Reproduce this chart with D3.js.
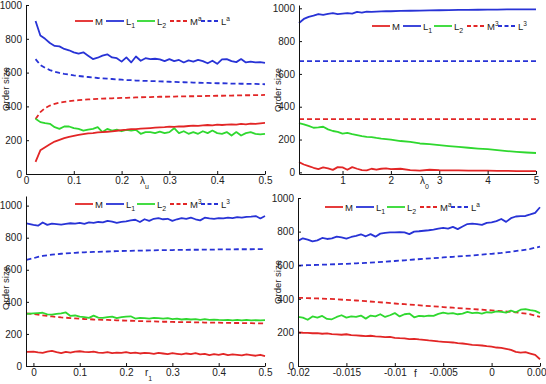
<!DOCTYPE html>
<html><head><meta charset="utf-8">
<script src="https://cdn.jsdelivr.net/npm/d3@7/dist/d3.min.js"></script>
<style>body{margin:0;background:#fff} svg{display:block}</style>
</head><body>
<svg id="c" width="546" height="384"></svg>
<script>
// ---------- Panel 1 (lambda_u) ----------
const p1X = [0.02,0.03,0.04,0.05,0.06,0.07,0.08,0.09,0.10,0.11,0.12,0.13,0.14,0.15,0.16,0.17,0.18,0.19,0.20,0.21,0.22,0.23,0.24,0.25,0.26,0.27,0.28,0.29,0.30,0.31,0.32,0.33,0.34,0.35,0.36,0.37,0.38,0.39,0.40,0.41,0.42,0.43,0.44,0.45,0.46,0.47,0.48,0.49,0.50];
const p1M  = [72,140,158,176,192,202,212,220,226,232,236,240,242,246,248,250,252,256,260,262,265,266,268,270,272,274,276,277,280,279,282,281,284,286,285,288,290,288,292,290,292,294,292,296,294,298,296,300,302];
const p1L1 = [905,820,800,775,758,755,740,732,720,712,720,700,680,688,700,708,690,685,665,690,660,695,670,685,680,682,678,668,680,668,675,660,672,665,675,668,655,670,652,678,680,668,662,680,660,665,660,662,658];
const p1L2 = [327,307,301,297,277,267,281,281,271,267,257,263,267,277,248,267,257,263,253,261,257,261,238,248,248,242,251,242,248,271,242,253,238,248,238,253,242,257,242,238,248,228,248,228,242,248,238,234,238];
const p1Ma = [325,366,390,405,415,422,427,431,434,437,439,441,443,445,446,447,448,449,450,451,452,453,454,455,455,456,457,457,458,458,459,459,460,460,461,461,462,462,463,463,464,464,465,465,466,466,467,467,468];
const p1La = [680,645,628,615,605,598,592,588,583,580,577,574,571,568,566,564,562,560,558,556,555,553,552,551,550,549,548,547,546,545,544,543,542,541,540,539,539,538,537,537,536,535,535,534,534,533,533,532,531];
const p1XTicks = [0,0.1,0.2,0.3,0.4,0.5];
const p1XLabels = ["0","0.1","0.2","0.3","0.4","0.5"];

// ---------- Panel 2 (lambda_0) ----------
const p2X = [0.1,0.2,0.3,0.4,0.5,0.6,0.7,0.8,0.9,1.0,1.1,1.2,1.3,1.4,1.5,1.6,1.7,1.8,1.9,2.0,2.2,2.4,2.6,2.8,3.0,3.2,3.4,3.6,3.8,4.0,4.2,4.4,4.6,4.8,5.0];
const p2M  = [62,48,38,28,20,30,24,15,32,30,16,32,22,14,12,22,16,22,24,20,22,14,10,16,13,12,12,11,10,10,9,9,8,8,7];
const p2L1 = [910,935,948,955,965,960,966,970,964,967,970,968,978,974,980,978,980,981,982,982,984,985,986,987,988,989,990,990,991,992,992,993,993,993,993];
const p2L2 = [300,293,283,272,274,278,262,252,247,236,240,233,227,221,216,215,210,206,203,199,191,186,176,172,166,160,155,150,145,141,135,130,125,121,118];
const p2DashX = [0.1,5.0];
const p2Ma = [324,324];
const p2La = [678,678];
const p2XTicks = [1,2,3,4,5];
const p2XLabels = ["1","2","3","4","5"];

// ---------- Panel 3 (r_1) ----------
const p3X = [-0.015,0,0.01,0.02,0.03,0.04,0.05,0.06,0.07,0.08,0.09,0.10,0.11,0.12,0.13,0.14,0.15,0.16,0.17,0.18,0.19,0.20,0.21,0.22,0.23,0.24,0.25,0.26,0.27,0.28,0.29,0.30,0.31,0.32,0.33,0.34,0.35,0.36,0.37,0.38,0.39,0.40,0.41,0.42,0.43,0.44,0.45,0.46,0.47,0.48,0.49,0.50];
const p3M  = [88,90,85,82,90,94,86,80,88,84,90,92,88,86,90,84,82,86,80,84,82,86,80,84,78,82,80,76,82,78,74,80,76,72,78,74,80,72,76,68,74,70,76,68,72,70,66,72,68,64,70,62];
const p3L1 = [890,880,875,895,880,888,885,882,886,890,888,892,886,895,892,898,896,905,900,893,898,902,908,912,898,915,905,918,922,915,918,905,915,922,918,925,915,908,925,920,918,922,920,925,922,928,925,930,932,935,920,935];
const p3L2 = [325,328,330,332,322,320,325,328,334,312,315,308,305,300,314,302,300,305,308,298,305,308,310,296,300,298,296,300,298,296,298,292,295,290,293,290,292,288,292,287,289,287,286,288,285,287,285,287,284,286,285,286];
const p3Ma = [328,324,320,316,312,309,306,303,301,299,297,295,293,292,290,289,288,287,286,285,284,283,282,281,280,279,278,278,277,276,276,275,274,274,273,273,272,272,271,271,270,270,269,269,268,268,268,267,267,266,266,265];
const p3La = [662,672,680,686,690,694,697,700,702,704,706,708,709,710,711,712,713,714,715,716,717,718,718,719,720,720,721,721,722,722,723,723,724,724,724,725,725,725,726,726,726,727,727,727,727,728,728,728,728,729,729,729];
const p3XTicks = [0,0.1,0.2,0.3,0.4,0.5];
const p3XLabels = ["0","0.1","0.2","0.3","0.4","0.5"];

// ---------- Panel 4 (f) ----------
const p4X = [-0.02,-0.0195,-0.019,-0.0185,-0.018,-0.0175,-0.017,-0.0165,-0.016,-0.0155,-0.015,-0.0145,-0.014,-0.0135,-0.013,-0.0125,-0.012,-0.0115,-0.011,-0.0105,-0.01,-0.0095,-0.009,-0.0085,-0.008,-0.0075,-0.007,-0.0065,-0.006,-0.0055,-0.005,-0.0045,-0.004,-0.0035,-0.003,-0.0025,-0.002,-0.0015,-0.001,-0.0005,0,0.0005,0.001,0.0015,0.002,0.0025,0.003,0.0035,0.004,0.0045,0.005];
const p4M  = [200,198,197,195,196,192,194,190,188,186,189,184,182,180,178,180,176,175,172,173,168,166,165,160,162,158,155,152,150,146,144,142,140,136,134,130,126,124,122,118,115,110,108,102,96,84,80,82,74,66,40];
const p4L1 = [745,760,752,742,748,762,756,760,770,765,758,768,775,784,772,785,770,788,792,795,795,797,795,785,800,802,805,808,812,818,822,818,828,815,830,845,848,845,840,852,855,862,875,858,880,890,892,893,902,912,945];
const p4L2 = [292,288,275,295,288,298,280,278,292,302,288,295,292,300,282,300,295,308,292,302,315,295,308,312,290,298,296,300,298,310,318,312,315,308,312,322,315,318,312,320,318,325,322,318,330,320,335,338,332,328,315];
const p4DashX = [-0.02,-0.019,-0.018,-0.017,-0.016,-0.015,-0.014,-0.013,-0.012,-0.011,-0.01,-0.009,-0.008,-0.007,-0.006,-0.005,-0.004,-0.003,-0.002,-0.001,0,0.001,0.002,0.003,0.004,0.005];
const p4Ma = [406,404,402,400,397,393,390,386,381,377,372,368,364,359,355,351,347,343,339,335,331,327,322,316,308,293];
const p4La = [598,600,602,604,606,608,611,614,617,621,625,629,634,638,642,646,650,654,658,663,668,673,680,688,697,711];
const p4XTicks = [-0.02,-0.015,-0.01,-0.005,0,0.005];
const p4XLabels = ["-0.02","-0.015","-0.01","-0.005","0","0.00"];

const yTicks = [0,200,400,600,800,1000];
const yLabels = ["0","200","400","600","800","1000"];
const yTitle = "Order size";

const FONT = "'Liberation Sans', Arial, Helvetica, sans-serif";
const RED = "#e22626", BLUE = "#2833d6", GREEN = "#2fd82f";

const svg = d3.select("#c");

function drawPanel(cfg) {
  const x = d3.scaleLinear().domain(cfg.xDomain).range(cfg.xRange);
  const y = d3.scaleLinear().domain(cfg.yDomain).range(cfg.yRange);
  const g = svg.append("g");

  const series = [
    {x: cfg.dashX, y: cfg.La, c: BLUE, dash: true},
    {x: cfg.dashX, y: cfg.Ma, c: RED, dash: true},
    {x: cfg.solidX, y: cfg.L1, c: BLUE},
    {x: cfg.solidX, y: cfg.L2, c: GREEN},
    {x: cfg.solidX, y: cfg.M, c: RED}
  ];
  series.forEach(s => {
    const ln = d3.line().x((d, i) => x(s.x[i])).y(d => y(d));
    g.append("path").attr("d", ln(s.y))
      .attr("fill", "none").attr("stroke", s.c)
      .attr("stroke-width", 1.8)
      .attr("stroke-linejoin", "round")
      .attr("stroke-dasharray", s.dash ? "5,3" : null);
  });

  const xa = d3.axisBottom(x).tickValues(cfg.xTicks)
    .tickFormat((d, i) => cfg.xLabels[i])
    .tickSizeInner(-3).tickSizeOuter(0).tickPadding(3);
  const ya = d3.axisLeft(y).tickValues(yTicks)
    .tickFormat((d, i) => yLabels[i])
    .tickSizeInner(-3).tickSizeOuter(0).tickPadding(4);

  const gx = g.append("g").attr("transform", `translate(0,${cfg.yRange[0]})`).call(xa);
  const gy = g.append("g").attr("transform", `translate(${cfg.xRange[0]},0)`).call(ya);
  [gx, gy].forEach(a => {
    a.selectAll("path,line").attr("stroke", "#111").attr("stroke-width", 1);
    a.selectAll("text").attr("font-family", FONT).attr("font-size", 10).attr("fill", "#222");
  });
  if (cfg.lastLabelEnd) {
    const last = gx.selectAll(".tick").filter((d, i, n) => i === n.length - 1).select("text");
    last.attr("text-anchor", "end").attr("x", cfg.lastLabelEnd);
  }

  // y title
  g.append("text")
    .attr("transform", `translate(${cfg.yTitleX},${cfg.yTitleY}) rotate(-90)`)
    .attr("text-anchor", "middle")
    .attr("font-family", FONT).attr("font-size", 9.5).attr("fill", "#222")
    .text(yTitle);

  // x title
  const xt = g.append("text").attr("x", cfg.xTitle.x).attr("y", cfg.xTitle.y)
    .attr("font-family", FONT).attr("font-size", 10).attr("fill", "#222");
  xt.append("tspan").text(cfg.xTitle.main);
  if (cfg.xTitle.sub) xt.append("tspan").attr("dy", 5).attr("font-size", 7).text(cfg.xTitle.sub);

  // legend
  const items = [
    {c: RED, dash: false, t: "M"},
    {c: BLUE, dash: false, t: "L", sub: "1"},
    {c: GREEN, dash: false, t: "L", sub: "2"},
    {c: RED, dash: true, t: "M", sup: cfg.supChar},
    {c: BLUE, dash: true, t: "L", sup: cfg.supChar}
  ];
  const offs = [0, 31, 62, 95, 126];
  items.forEach((it, i) => {
    const lx = cfg.legend.x + offs[i], ly = cfg.legend.y;
    g.append("line").attr("x1", lx).attr("x2", lx + 18).attr("y1", ly).attr("y2", ly)
      .attr("stroke", it.c).attr("stroke-width", 1.8)
      .attr("stroke-dasharray", it.dash ? "4,2.5" : null);
    const t = g.append("text").attr("x", lx + 20).attr("y", ly + 3.5)
      .attr("font-family", FONT).attr("font-size", 9.5).attr("fill", "#222");
    t.append("tspan").text(it.t);
    if (it.sub) t.append("tspan").attr("dy", 3).attr("font-size", 7).text(it.sub);
    if (it.sup) t.append("tspan").attr("dy", -4).attr("font-size", 6.5).text(it.sup);
  });
}

drawPanel({
  xDomain: [0, 0.5], xRange: [26, 265], yDomain: [0, 1000], yRange: [174, 5],
  solidX: p1X, dashX: p1X, M: p1M, L1: p1L1, L2: p1L2, Ma: p1Ma, La: p1La,
  xTicks: p1XTicks, xLabels: p1XLabels,
  yTitleX: 8.5, yTitleY: 89,
  xTitle: {x: 140, y: 184, main: "\u03bb", sub: "u"},
  legend: {x: 75, y: 21}, supChar: "a"
});
drawPanel({
  xDomain: [0.1, 5], xRange: [299, 536], yDomain: [-10, 1020], yRange: [174, 5],
  solidX: p2X, dashX: p2DashX, M: p2M, L1: p2L1, L2: p2L2, Ma: p2Ma, La: p2La,
  xTicks: p2XTicks, xLabels: p2XLabels,
  yTitleX: 281, yTitleY: 90,
  xTitle: {x: 420, y: 184, main: "\u03bb", sub: "0"},
  legend: {x: 372, y: 26}, supChar: "3"
});
drawPanel({
  xDomain: [-0.016, 0.5], xRange: [26, 265], yDomain: [0, 1060], yRange: [366, 196],
  solidX: p3X, dashX: p3X, M: p3M, L1: p3L1, L2: p3L2, Ma: p3Ma, La: p3La,
  xTicks: p3XTicks, xLabels: p3XLabels,
  yTitleX: 8.5, yTitleY: 288,
  xTitle: {x: 145, y: 376, main: "r", sub: "1"},
  legend: {x: 75, y: 204}, supChar: "3"
});
drawPanel({
  xDomain: [-0.02, 0.005], xRange: [298, 540], yDomain: [0, 1000], yRange: [366, 198],
  solidX: p4X, dashX: p4DashX, M: p4M, L1: p4L1, L2: p4L2, Ma: p4Ma, La: p4La,
  xTicks: p4XTicks, xLabels: p4XLabels, lastLabelEnd: 6,
  yTitleX: 281, yTitleY: 282,
  xTitle: {x: 414, y: 377, main: "f"},
  legend: {x: 325, y: 207}, supChar: "a"
});
</script>
</body></html>
